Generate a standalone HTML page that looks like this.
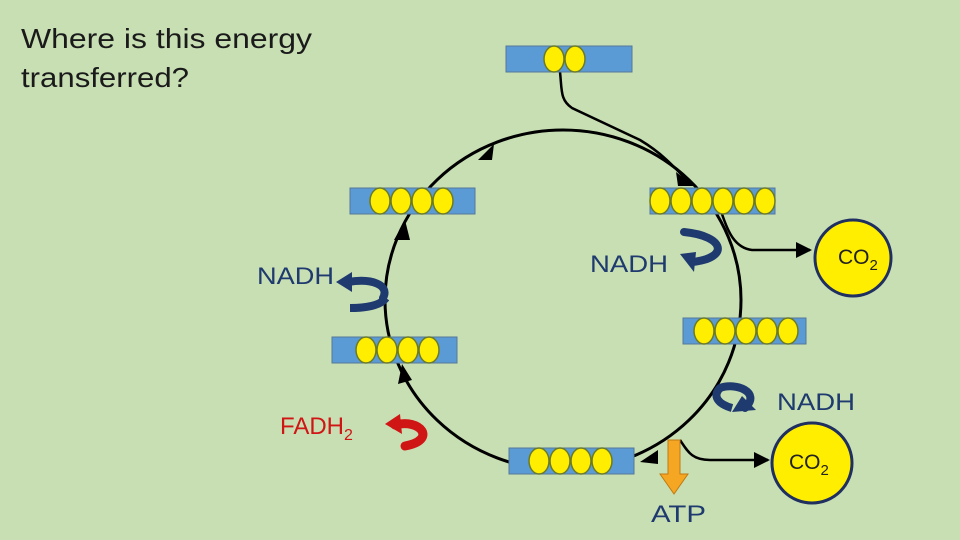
<!DOCTYPE html>
<html><head><style>
body{margin:0;background:#c8dfb4;}
svg{display:block}
text{font-family:"Liberation Sans",sans-serif}
</style></head><body>
<svg width="960" height="540" viewBox="0 0 960 540">
<rect width="960" height="540" fill="#c8dfb4"/>
<defs>
<marker id="ah2" markerWidth="18" markerHeight="16" refX="14" refY="8" orient="auto" markerUnits="userSpaceOnUse"><path d="M0,0 L16,8 L0,16z" fill="#000"/></marker>
</defs>
<text x="21" y="48" font-size="28" fill="#1a1a1a" textLength="291" lengthAdjust="spacingAndGlyphs">Where is this energy</text>
<text x="21" y="87" font-size="28" fill="#1a1a1a" textLength="168" lengthAdjust="spacingAndGlyphs">transferred?</text>

<ellipse cx="563" cy="300" rx="178" ry="170" fill="none" stroke="#000" stroke-width="3"/>
<g fill="#000">
<path d="M478,160 L494,144 L492,160z"/>
<path d="M676,172 L694,186 L678,186z"/>
<path d="M394,240 L405,220 L410,240z"/>
<path d="M398,384 L402,364 L412,380z"/>
<path d="M640,462 L658,450 L658,464z"/>
</g>
<path d="M560,72 C562,90 560,100 572,108 L640,140 C660,152 672,164 690,184" fill="none" stroke="#000" stroke-width="2.5"/>
<path d="M722,214 C728,232 735,248 752,250 L810,250" fill="none" stroke="#000" stroke-width="2.5" marker-end="url(#ah2)"/>
<path d="M680,440 C688,452 692,460 710,460 L768,460" fill="none" stroke="#000" stroke-width="2.5" marker-end="url(#ah2)"/>

<g stroke="#557799" stroke-width="1">
<rect x="506" y="46" width="126" height="26" fill="#5b9bd5"/>
<rect x="650" y="188" width="125" height="26" fill="#5b9bd5"/>
<rect x="350" y="188" width="125" height="26" fill="#5b9bd5"/>
<rect x="683" y="318" width="123" height="26" fill="#5b9bd5"/>
<rect x="332" y="337" width="125" height="26" fill="#5b9bd5"/>
<rect x="509" y="448" width="125" height="26" fill="#5b9bd5"/>
</g>
<g fill="#ffee00" stroke="#6b7a2a" stroke-width="1.5">
<ellipse cx="554" cy="59" rx="10" ry="13"/><ellipse cx="575" cy="59" rx="10" ry="13"/>
<ellipse cx="660" cy="201" rx="10" ry="13"/><ellipse cx="681" cy="201" rx="10" ry="13"/><ellipse cx="702" cy="201" rx="10" ry="13"/><ellipse cx="723" cy="201" rx="10" ry="13"/><ellipse cx="744" cy="201" rx="10" ry="13"/><ellipse cx="765" cy="201" rx="10" ry="13"/>
<ellipse cx="380" cy="201" rx="10" ry="13"/><ellipse cx="401" cy="201" rx="10" ry="13"/><ellipse cx="422" cy="201" rx="10" ry="13"/><ellipse cx="443" cy="201" rx="10" ry="13"/>
<ellipse cx="704" cy="331" rx="10" ry="13"/><ellipse cx="725" cy="331" rx="10" ry="13"/><ellipse cx="746" cy="331" rx="10" ry="13"/><ellipse cx="767" cy="331" rx="10" ry="13"/><ellipse cx="788" cy="331" rx="10" ry="13"/>
<ellipse cx="366" cy="350" rx="10" ry="13"/><ellipse cx="387" cy="350" rx="10" ry="13"/><ellipse cx="408" cy="350" rx="10" ry="13"/><ellipse cx="429" cy="350" rx="10" ry="13"/>
<ellipse cx="539" cy="461" rx="10" ry="13"/><ellipse cx="560" cy="461" rx="10" ry="13"/><ellipse cx="581" cy="461" rx="10" ry="13"/><ellipse cx="602" cy="461" rx="10" ry="13"/>
</g>

<circle cx="853" cy="258" r="38" fill="#ffee00" stroke="#1f2f5f" stroke-width="3"/>
<text x="838" y="264" font-size="21" fill="#222">CO<tspan font-size="15" dy="6">2</tspan></text>
<circle cx="812" cy="463" r="40" fill="#ffee00" stroke="#1f2f5f" stroke-width="3"/>
<text x="789" y="469" font-size="21" fill="#222">CO<tspan font-size="15" dy="6">2</tspan></text>

<g fill="none" stroke="#1f3a6e" stroke-width="8" stroke-linecap="round">
<path d="M684,232 C725,236 730,258 692,262"/>
<path d="M383,298 C390,285 372,278 348,282"/>
<path d="M720,388 C735,382 762,392 745,408"/>
</g>
<g fill="#1f3a6e">
<path d="M680,254 L696,252 L694,272z"/>
<path d="M336,282 L352,272 L352,292z"/>
<path d="M732,412 L742,396 L756,410z"/>
</g>
<path d="M386,298 C380,306 365,308 350,308" fill="none" stroke="#1f3a6e" stroke-width="8"/>
<path d="M720,388 C712,396 718,404 732,408" fill="none" stroke="#1f3a6e" stroke-width="8"/>
<text x="590" y="272" font-size="24" fill="#1f3a6e" textLength="78" lengthAdjust="spacingAndGlyphs">NADH</text>
<text x="257" y="284" font-size="24" fill="#1f3a6e" textLength="77" lengthAdjust="spacingAndGlyphs">NADH</text>
<text x="777" y="410" font-size="24" fill="#1f3a6e" textLength="78" lengthAdjust="spacingAndGlyphs">NADH</text>

<path d="M395,425 C420,418 438,440 405,446" fill="none" stroke="#d01515" stroke-width="9" stroke-linecap="round"/>
<path d="M385,424 L400,414 L402,434z" fill="#d01515"/>
<text x="280" y="434" font-size="24" fill="#d01515">FADH<tspan font-size="16" dy="6">2</tspan></text>

<path d="M668,440 L680,440 L680,474 L688,474 L674,494 L660,474 L668,474z" fill="#f5a623" stroke="#c07a10" stroke-width="1"/>
<text x="651" y="522" font-size="24" fill="#1f3a6e" textLength="55" lengthAdjust="spacingAndGlyphs">ATP</text>
</svg>
</body></html>
